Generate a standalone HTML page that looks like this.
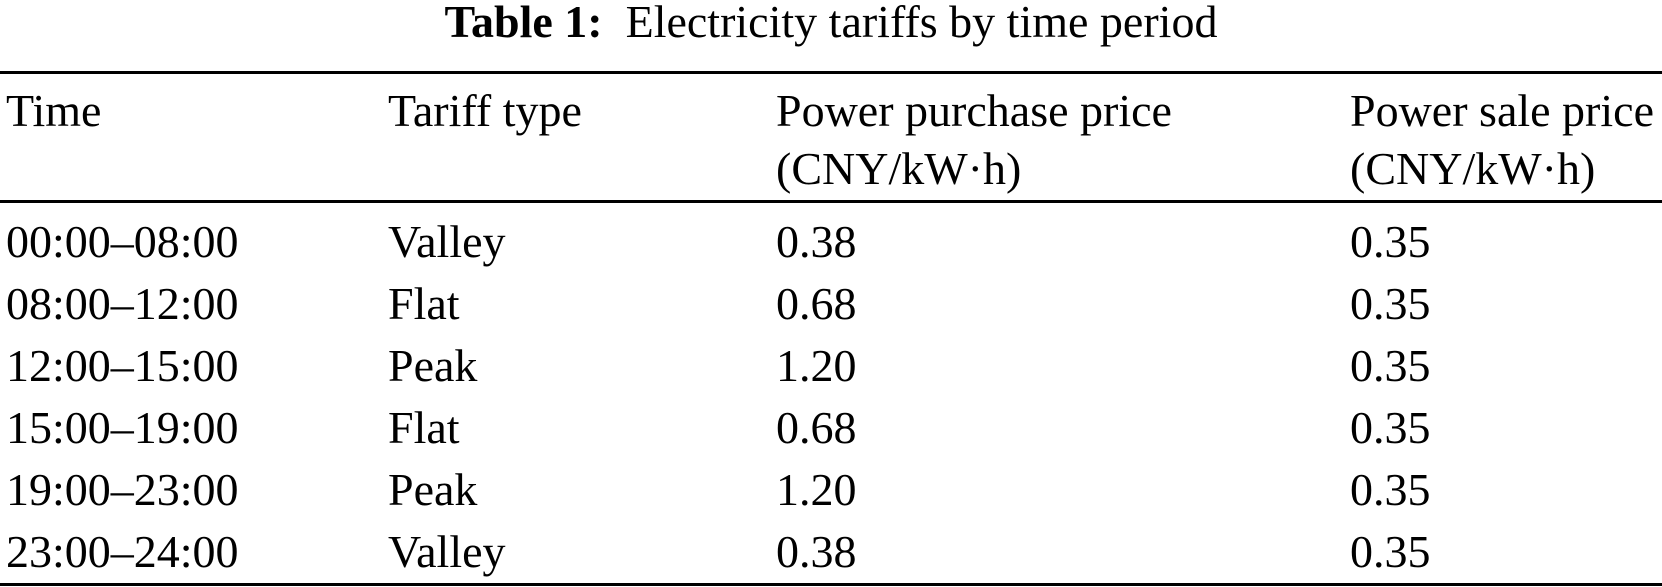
<!DOCTYPE html>
<html><head><meta charset="utf-8"><style>
html,body{margin:0;padding:0;background:#fff;}
svg{display:block;}
text{font-family:"Liberation Serif","Times New Roman",serif;font-size:46px;fill:#000;}
</style></head><body>
<svg width="1662" height="587" viewBox="0 0 1662 587" xmlns="http://www.w3.org/2000/svg">
<text x="831" y="37" text-anchor="middle"><tspan font-weight="bold">Table 1:</tspan><tspan xml:space="preserve">  Electricity tariffs by time period</tspan></text>
<rect x="0" y="71" width="1662" height="3" fill="#000"/>
<rect x="0" y="200" width="1662" height="3" fill="#000"/>
<rect x="0" y="583" width="1662" height="3" fill="#000"/>
<text x="6" y="126">Time</text>
<text x="388" y="126">Tariff type</text>
<text x="776" y="126">Power purchase price</text>
<text x="776" y="184">(CNY/kW·h)</text>
<text x="1350" y="126">Power sale price</text>
<text x="1350" y="184">(CNY/kW·h)</text>

<text x="6" y="257">00:00–08:00</text><text x="388" y="257">Valley</text><text x="776" y="257">0.38</text><text x="1350" y="257">0.35</text>
<text x="6" y="319">08:00–12:00</text><text x="388" y="319">Flat</text><text x="776" y="319">0.68</text><text x="1350" y="319">0.35</text>
<text x="6" y="381">12:00–15:00</text><text x="388" y="381">Peak</text><text x="776" y="381">1.20</text><text x="1350" y="381">0.35</text>
<text x="6" y="443">15:00–19:00</text><text x="388" y="443">Flat</text><text x="776" y="443">0.68</text><text x="1350" y="443">0.35</text>
<text x="6" y="505">19:00–23:00</text><text x="388" y="505">Peak</text><text x="776" y="505">1.20</text><text x="1350" y="505">0.35</text>
<text x="6" y="567">23:00–24:00</text><text x="388" y="567">Valley</text><text x="776" y="567">0.38</text><text x="1350" y="567">0.35</text>
</svg>
</body></html>
